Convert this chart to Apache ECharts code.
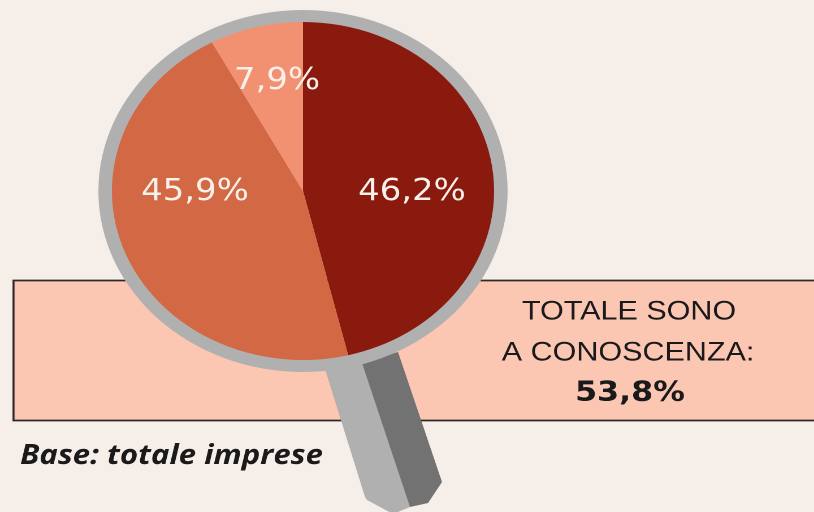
<!DOCTYPE html>
<html>
<head>
<meta charset="utf-8">
<style>
  html, body { margin: 0; padding: 0; background: #f6eee9; overflow: hidden; }
  /* the reference is stretched horizontally, so the whole chart is too */
  #main { width: 720px; height: 512px; transform: scaleX(1.1306); transform-origin: 0 0; }
</style>
<script src="https://cdn.jsdelivr.net/npm/echarts@6/dist/echarts.min.js"></script>
</head>
<body>
<div id="main"></div>
<script>
  var categories = ['Sì, conosco bene', 'Sì, ne ho sentito parlare', 'Altro']
  var values = [46.2, 45.9, 7.9]
  var sliceColors = ['#8a1a0e', '#d26844', '#f29072']
  var boxLines = ['TOTALE SONO', 'A CONOSCENZA:']
  var boxTotal = '53,8%'
  var baseNote = 'Base: totale imprese'

  var k = 1.1306
  function sx (x) { return x / k }
  function poly (pts) {
    return pts.map(function (p) { return [sx(p[0]), p[1]] })
  }
  var labelPos = [[412, 192], [195, 192], [277, 81]]
  var center = [sx(303), 191]

  var chart = echarts.init(document.getElementById('main'), null, { devicePixelRatio: 2 })
  chart.setOption({
    animation: false,
    backgroundColor: '#f6eee9',
    graphic: [
      { type: 'rect', z: 0, shape: { x: sx(13.5), y: 280.5, width: sx(820), height: 140 },
        style: { fill: '#fbc7b3', stroke: '#2e2826', lineWidth: 1.8 } },
      { type: 'polygon', z: 1, shape: { points: poly([[324, 366], [365, 497], [367, 500], [393, 514], [410, 507], [366, 360]]) },
        style: { fill: '#b0b0b0' } },
      { type: 'polygon', z: 1, shape: { points: poly([[362, 363], [398, 352], [442, 482], [428, 503], [410, 507]]) },
        style: { fill: '#727272' } },
      { type: 'text', z: 3, x: sx(629), y: 312, style: { text: boxLines[0], fill: '#1a1a1a', font: '27px "Liberation Sans"', align: 'center', verticalAlign: 'middle' } },
      { type: 'text', z: 3, x: sx(628), y: 353, style: { text: boxLines[1], fill: '#1a1a1a', font: '27px "Liberation Sans"', align: 'center', verticalAlign: 'middle' } },
      { type: 'text', z: 3, x: sx(630), y: 393, style: { text: boxTotal, fill: '#1a1a1a', font: 'bold 28px "DejaVu Sans"', align: 'center', verticalAlign: 'middle' } },
      { type: 'text', z: 3, x: sx(20), y: 456, style: { text: baseNote, fill: '#1a1a1a', font: 'italic bold 27.6px "Open Sans"', align: 'left', verticalAlign: 'middle' } }
    ],
    series: [
      {
        // gray ring of the magnifying glass
        type: 'pie', silent: true, center: center, radius: [168, 181],
        label: { show: false }, data: [{ value: 1, itemStyle: { color: '#b0b0b0' } }]
      },
      {
        type: 'pie', silent: true, center: center, radius: [0, 169], startAngle: 90, clockwise: true,
        data: categories.map(function (c, i) {
          return { name: c, value: values[i], itemStyle: { color: sliceColors[i] } }
        }),
        label: {
          show: true, position: 'inside', color: '#f8f0ea', fontFamily: 'DejaVu Sans', fontSize: 30,
          formatter: function (p) { return String(p.value).replace('.', ',') + '%' }
        },
        labelLine: { show: false },
        labelLayout: function (p) {
          return { x: sx(labelPos[p.dataIndex][0]), y: labelPos[p.dataIndex][1], align: 'center', verticalAlign: 'middle' }
        }
      }
    ]
  })
</script>
</body>
</html>
